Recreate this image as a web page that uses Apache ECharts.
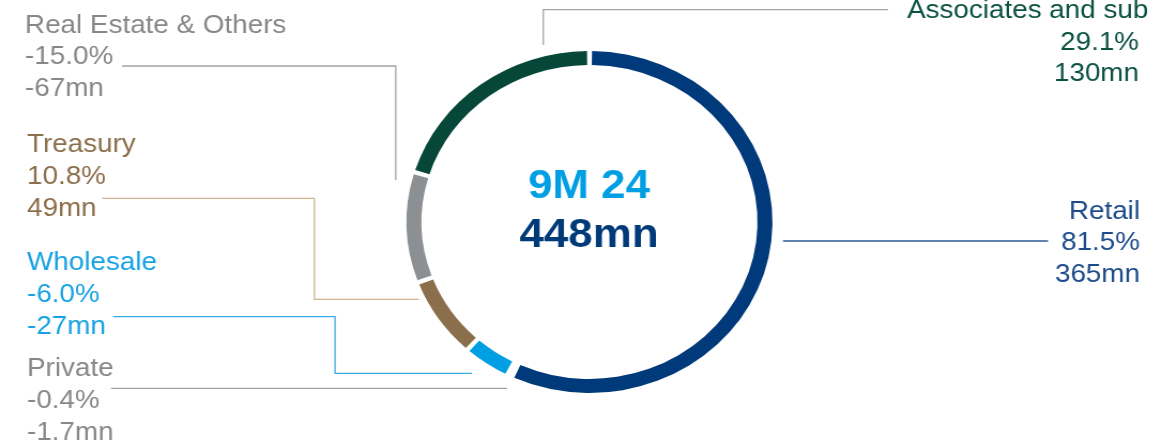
<!doctype html>
<html>
<head>
<meta charset="utf-8">
<title>9M 24 breakdown</title>
<script src="https://cdn.jsdelivr.net/npm/echarts@6/dist/echarts.min.js"></script>
<style>
    html, body {margin: 0; padding: 0; background: #fff; overflow: hidden;}
    /* the source picture is stretched a bit horizontally, so the chart is too */
    #ring {width: 1087px; height: 445px; transform: scaleX(1.07); transform-origin: 0 0;}
</style>
</head>
<body>
<div id="ring"></div>
<script>
    var SX = 1.07;

    // data, clockwise from 12 o'clock
    var categories = ['Retail', 'Private', 'Wholesale', 'Treasury', 'Real Estate & Others', 'Associates and subsidiaries'];
    var valuesMn = [365, -1.7, -27, 49, -67, 130];
    var pctLabels = ['81.5%', '-0.4%', '-6.0%', '10.8%', '-15.0%', '29.1%'];
    var mnLabels = ['365mn', '-1.7mn', '-27mn', '49mn', '-67mn', '130mn'];
    var centerLabels = ['9M 24', '448mn'];

    var sliceColors = ['#003a7a', '#8d9093', '#009fe3', '#8b6e4b', '#8d9093', '#07473a'];
    var textColors = ['#1d4b8a', '#878787', '#16a2e3', '#8b6e4b', '#878787', '#0b5140'];
    var lineColors = ['#2c5a96', '#a3a3a3', '#36ade6', '#d1b48e', '#a3a3a3', '#a3a3a3'];

    // label anchors (page px) and leader lines
    var labelPos = [
        {x: 1140, y: 195.5, align: 'right'},
        {x: 27, y: 353, align: 'left'},
        {x: 27, y: 247, align: 'left'},
        {x: 27, y: 129, align: 'left'},
        {x: 25, y: 9.5, align: 'left'},
        {x: 1139, y: 26.5, align: 'right'}
    ];
    var leaders = [
        [[783, 241], [1048, 241]],
        [[111, 388.3], [507, 388.3]],
        [[113, 316.7], [335, 316.7], [335, 373.3], [472, 373.3]],
        [[102, 198.3], [314.3, 198.3], [314.3, 299.3], [419, 299.3]],
        [[122, 66], [395.7, 66], [395.7, 180]],
        [[543.3, 45], [543.3, 9.7], [888, 9.7]]
    ];

    var FONT = '26px "Liberation Sans", Arial, sans-serif';
    var graphics = [];

    leaders.forEach(function (pts, i) {
        graphics.push({
            type: 'polyline',
            silent: true,
            shape: {points: pts.map(function (p) { return [p[0] / SX, p[1]]; })},
            style: {stroke: lineColors[i], lineWidth: 1.3, fill: null}
        });
    });

    categories.forEach(function (name, i) {
        var last = i === categories.length - 1;
        var txt = last ? pctLabels[i] + '\n' + mnLabels[i] : name + '\n' + pctLabels[i] + '\n' + mnLabels[i];
        graphics.push({
            type: 'text',
            silent: true,
            x: labelPos[i].x / SX,
            y: labelPos[i].y,
            style: {
                text: txt, fill: textColors[i], font: FONT,
                textAlign: labelPos[i].align, textVerticalAlign: 'top', lineHeight: 31.8
            }
        });
        if (last) {
            // name line runs off the right edge in the source
            graphics.push({
                type: 'text', silent: true,
                x: 907 / SX, y: -5.2,
                style: {text: name, fill: textColors[i], font: FONT, textAlign: 'left', textVerticalAlign: 'top', lineHeight: 31.8}
            });
        }
    });

    graphics.push({
        type: 'rect', silent: true, z: 100,
        shape: {x: 1147 / SX, y: 0, width: 40, height: 32},
        style: {fill: '#fff'}
    });

    graphics.push({
        type: 'text', silent: true, x: 589 / SX, y: 187,
        style: {text: centerLabels[0], fill: '#009fe3', font: 'bold 41px "Liberation Sans", Arial, sans-serif', textAlign: 'center', textVerticalAlign: 'middle'}
    });
    graphics.push({
        type: 'text', silent: true, x: 589 / SX, y: 235.5,
        style: {text: centerLabels[1], fill: '#003a78', font: 'bold 41px "Liberation Sans", Arial, sans-serif', textAlign: 'center', textVerticalAlign: 'middle'}
    });

    var myChart = echarts.init(document.getElementById('ring'));
    var option = {
        animation: false,
        graphic: graphics,
        series: [{
            type: 'pie',
            silent: true,
            center: [589.5 / SX, 222],
            radius: [157, 171],
            startAngle: 90,
            clockwise: true,
            padAngle: 1.55,
            avoidLabelOverlap: false,
            label: {show: false},
            labelLine: {show: false},
            data: categories.map(function (c, i) {
                return {name: c, value: Math.abs(valuesMn[i]), itemStyle: {color: sliceColors[i]}};
            })
        }]
    };
    myChart.setOption(option);
</script>
</body>
</html>
